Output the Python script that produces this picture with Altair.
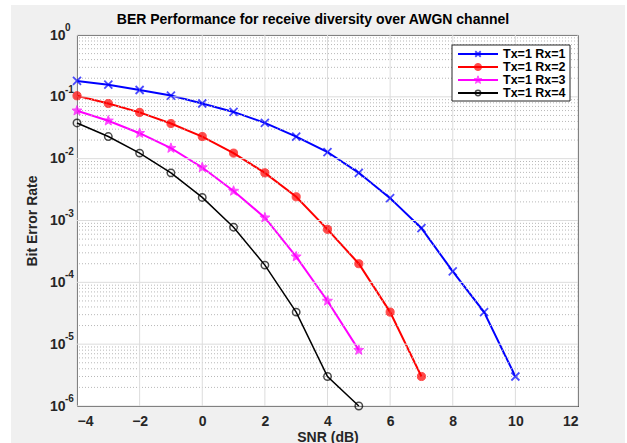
import math
import altair as alt
import pandas as pd

# ---------------- data ----------------
series_names = ["Tx=1 Rx=1", "Tx=1 Rx=2", "Tx=1 Rx=3", "Tx=1 Rx=4"]

snr_rx1 = [-4, -3, -2, -1, 0, 1, 2, 3, 4, 5, 6, 7, 8, 9, 10]
ber_rx1 = [0.181, 0.157, 0.129, 0.105, 0.078, 0.057, 0.038, 0.0228, 0.0128,
           0.0059, 0.0023, 7.5e-4, 1.5e-4, 3.3e-5, 3.0e-6]

snr_rx2 = [-4, -3, -2, -1, 0, 1, 2, 3, 4, 5, 6, 7]
ber_rx2 = [0.104, 0.078, 0.056, 0.037, 0.0228, 0.0123, 0.0059, 0.00242,
           7.2e-4, 2.0e-4, 3.3e-5, 3.0e-6]

snr_rx3 = [-4, -3, -2, -1, 0, 1, 2, 3, 4, 5]
ber_rx3 = [0.0596, 0.041, 0.0258, 0.0148, 0.0072, 0.0030, 0.00111, 2.6e-4,
           5.0e-5, 8.0e-6]

snr_rx4 = [-4, -3, -2, -1, 0, 1, 2, 3, 4, 5]
ber_rx4 = [0.0378, 0.0228, 0.0123, 0.0059, 0.00236, 7.8e-4, 1.9e-4, 3.3e-5,
           3.0e-6, 1.0e-6]

x_ticks = [-4, -2, 0, 2, 4, 6, 8, 10, 12]
y_decades = [1e-6, 1e-5, 1e-4, 1e-3, 1e-2, 1e-1, 1.0]
y_exponents = ["-6", "-5", "-4", "-3", "-2", "-1", "0"]
y_minor = [m * 10.0 ** k for k in range(-6, 0) for m in range(2, 10)]

title_text = "BER Performance for receive diversity over AWGN channel"
x_title = "SNR (dB)"
y_title = "Bit Error Rate"

# ---------------- styling ----------------
FONT = "Liberation Sans"
W, H = 501, 371
PAD_L, PAD_T = 77, 35
colors = ["#0000ff", "#ff0000", "#ff00ff", "#000000"]
LEG_X0, LEG_X1, LEG_Y0, LEG_Y1 = 375, 493, 10, 66
LEG_ROW0, LEG_ROWSTEP = 19, 13


def star(R, r_in=None):
    r_in = r_in if r_in is not None else R * 0.42
    pts = []
    for i in range(10):
        ang = -math.pi / 2 + i * math.pi / 5
        rr = R if i % 2 == 0 else r_in
        pts.append((rr * math.cos(ang), rr * math.sin(ang)))
    return "M" + "L".join(f"{x:.3f},{y:.3f}" for x, y in pts) + "Z"


def xmark(a):
    return f"M{-a},{-a}L{a},{a}M{-a},{a}L{a},{-a}"


rows = []
for name, xs, ys in zip(series_names, [snr_rx1, snr_rx2, snr_rx3, snr_rx4],
                        [ber_rx1, ber_rx2, ber_rx3, ber_rx4]):
    for x, y in zip(xs, ys):
        rows.append({"snr": x, "ber": y, "series": name})
df = pd.DataFrame(rows)
leg_df = pd.DataFrame({"series": series_names, "idx": list(range(len(series_names)))})

xscale = alt.Scale(domain=[-4, 12], nice=False, zero=False)
yscale = alt.Scale(type="log", domain=[1e-6, 1], nice=False)
stroke_scale = alt.Scale(domain=series_names, range=colors)

# thin white page margins around the gray figure (pixel rects, scale=None)
strips_df = pd.DataFrame({
    "sx0": [-PAD_L, -PAD_L, 625 - PAD_L],
    "sx1": [11 - PAD_L, 627 - PAD_L, 627 - PAD_L],
    "sy0": [-PAD_T, -PAD_T, -PAD_T],
    "sy1": [443 - PAD_T, 5 - PAD_T, 443 - PAD_T],
})
strips = alt.Chart(strips_df).mark_rect(fill="white").encode(
    x=alt.X("sx0:Q", scale=None), x2="sx1:Q", y=alt.Y("sy0:Q", scale=None), y2="sy1:Q")

# chart title as a text mark (pixel position)
title_df = pd.DataFrame({"t": [title_text], "tx": [313 - PAD_L], "ty": [20 - PAD_T]})
title_mark = alt.Chart(title_df).mark_text(
    align="center", baseline="middle", font=FONT, fontSize=14, fontWeight="bold",
    color="black").encode(
    x=alt.X("tx:Q", scale=None), y=alt.Y("ty:Q", scale=None), text="t:N")

minor_grid = alt.Chart(pd.DataFrame({"gy": y_minor})).mark_rule(
    color="#b8b8b8", strokeWidth=1, strokeDash=[1, 2]).encode(
    y=alt.Y("gy:Q", scale=yscale))
major_y_grid = alt.Chart(pd.DataFrame({"gy": y_decades})).mark_rule(
    color="#dcdcdc", strokeWidth=1).encode(
    y=alt.Y("gy:Q", scale=yscale))
major_x_grid = alt.Chart(pd.DataFrame({"gx": x_ticks})).mark_rule(
    color="#dcdcdc", strokeWidth=1).encode(
    x=alt.X("gx:Q", scale=xscale))

x_axis = alt.Axis(values=x_ticks, title=x_title, grid=False, ticks=False,
                  domain=False, labelFont=FONT, labelFontSize=14,
                  labelFontWeight="bold", labelColor="#262626",
                  labelPadding=8, titleFont=FONT, titleFontSize=14,
                  titleFontWeight="bold", titleColor="#262626", titlePadding=2)
y_axis = alt.Axis(values=y_decades, labelExpr="'10'", title=y_title,
                  grid=False, ticks=False, domain=False, labelFont=FONT,
                  labelFontSize=14, labelFontWeight="bold",
                  labelColor="#262626", labelPadding=12,
                  titleFont=FONT, titleFontSize=14, titleFontWeight="bold",
                  titleColor="#262626", titlePadding=10)

lines_a = alt.Chart(df).transform_filter(alt.datum.series != series_names[3]).mark_line(strokeWidth=2).encode(
    x=alt.X("snr:Q", scale=xscale, axis=x_axis),
    y=alt.Y("ber:Q", scale=yscale, axis=y_axis),
    stroke=alt.Stroke("series:N", scale=stroke_scale, legend=None),
)
lines_b = alt.Chart(df).transform_filter(alt.datum.series == series_names[3]).mark_line(
    strokeWidth=1.5, stroke=colors[3]).encode(
    x=alt.X("snr:Q", scale=xscale, axis=x_axis), y=alt.Y("ber:Q", scale=yscale, axis=y_axis))

marker_styles = [
    dict(shape=xmark(1), size=64, filled=False, stroke=colors[0], strokeWidth=1.8),
    dict(shape="circle", size=66, filled=True, fill=colors[1], stroke=colors[1], strokeWidth=1),
    dict(shape=star(1), size=110, filled=True, fill=colors[2], stroke=colors[2], strokeWidth=1),
    dict(shape="circle", size=55, filled=False, stroke=colors[3], strokeWidth=1.5),
]
legend_marker_styles = [
    dict(shape=xmark(1), size=30, filled=False, stroke=colors[0], strokeWidth=1.8),
    dict(shape="circle", size=50, filled=True, fill=colors[1], stroke=colors[1], strokeWidth=1),
    dict(shape=star(1), size=70, filled=True, fill=colors[2], stroke=colors[2], strokeWidth=1),
    dict(shape="circle", size=28, filled=False, stroke=colors[3], strokeWidth=1.5),
]

points = []
for name, st in zip(series_names, marker_styles):
    points.append(alt.Chart(df).transform_filter(alt.datum.series == name).mark_point(**st).encode(
        x=alt.X("snr:Q", scale=xscale, axis=x_axis), y=alt.Y("ber:Q", scale=yscale, axis=y_axis)))

# ---- legend (drawn as marks, pixel positions via scale=None) ----
box_df = pd.DataFrame({"bx0": [LEG_X0], "bx1": [LEG_X1], "by0": [LEG_Y0], "by1": [LEG_Y1]})
leg_box = alt.Chart(box_df).mark_rect(fill="white", stroke="#262626", strokeWidth=1).encode(
    x=alt.X("bx0:Q", scale=None), x2="bx1:Q", y=alt.Y("by0:Q", scale=None), y2="by1:Q")
leg_base = alt.Chart(leg_df).transform_calculate(
    py=f"{LEG_ROW0} + {LEG_ROWSTEP} * datum.idx",
    lx0=f"{LEG_X0 + 6}", lx1=f"{LEG_X0 + 46}", mx=f"{LEG_X0 + 26}", tx=f"{LEG_X0 + 51}")
leg_lines = leg_base.mark_rule(strokeWidth=2).encode(
    x=alt.X("lx0:Q", scale=None), x2="lx1:Q",
    y=alt.Y("py:Q", scale=None),
    stroke=alt.Stroke("series:N", scale=stroke_scale, legend=None))
leg_marks = []
for name, st in zip(series_names, legend_marker_styles):
    leg_marks.append(leg_base.transform_filter(alt.datum.series == name).mark_point(**st).encode(
        x=alt.X("mx:Q", scale=None), y=alt.Y("py:Q", scale=None)))
leg_text = leg_base.mark_text(align="left", baseline="middle", font=FONT, fontSize=12.5,
                              fontWeight="bold", color="black").encode(
    x=alt.X("tx:Q", scale=None), y=alt.Y("py:Q", scale=None), text="series:N")

exp_layer = alt.Chart(pd.DataFrame({"ev": y_decades, "et": y_exponents})).transform_calculate(
    ex="-12").mark_text(
    align="left", baseline="middle", dy=-7, font=FONT, fontSize=10,
    fontWeight="bold", color="#262626").encode(
    x=alt.X("ex:Q", scale=None), y=alt.Y("ev:Q", scale=yscale, axis=y_axis), text="et:N")

chart = alt.layer(
    lines_a, strips, minor_grid, major_y_grid, major_x_grid, lines_b, *points, exp_layer,
    leg_box, leg_lines, *leg_marks, leg_text, title_mark
).properties(
    width=W, height=H,
    autosize=alt.AutoSizeParams(type="none"),
    padding={"left": PAD_L, "top": PAD_T, "right": 627 - PAD_L - W, "bottom": 443 - PAD_T - H},
    background="#f0f0f0",
).configure_view(fill="white", stroke="#262626", strokeWidth=1)

chart.save("out.html", embed_options={"renderer": "svg", "actions": False})
